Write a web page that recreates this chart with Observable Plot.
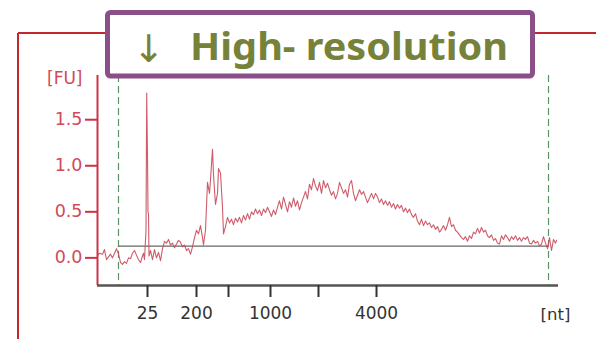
<!DOCTYPE html>
<html>
<head>
<meta charset="utf-8">
<script src="https://cdn.jsdelivr.net/npm/d3@7"></script>
<script src="https://cdn.jsdelivr.net/npm/@observablehq/plot@0.6"></script>
<style>
  html, body { margin: 0; padding: 0; background: #fff; }
  #wrap { position: relative; width: 596px; height: 339px; overflow: hidden; font-family: "DejaVu Sans", sans-serif; }
  #wrap > svg { position: absolute; left: 0; top: 0; }
  #overlay { pointer-events: none; }
</style>
</head>
<body>
<div id="wrap"></div>
<script>
// migration time (s) and fluorescence (FU)
const traceTime = [
  20.0,20.2,20.5,20.7,20.9,21.1,21.3,21.5,21.7,21.9,22.1,22.3,22.5,22.7,22.9,23.1,23.3,23.5,23.7,23.9,
  24.1,24.3,24.5,24.6,24.7,24.85,24.92,25.0,25.05,25.1,25.15,
  25.3,25.5,25.7,25.9,26.1,26.3,26.5,26.7,26.9,27.1,27.3,27.5,27.7,27.9,28.1,28.3,28.5,28.7,28.9,
  29.1,29.3,29.5,29.7,29.9,30.1,30.3,30.5,30.6,30.8,31.0,31.2,31.3,31.5,31.6,31.8,32.0,32.1,32.3,32.5,
  32.6,32.8,33.0,33.2,33.4,33.6,33.8,34.0,34.2,34.4,34.6,34.8,35.0,35.2,35.4,35.6,35.8,36.0,36.2,36.4,
  36.6,36.8,37.0,37.2,37.4,37.6,37.8,38.0,38.2,38.4,38.6,38.8,39.0,39.2,39.4,39.6,39.8,40.0,40.2,40.4,
  40.6,40.8,41.0,41.2,41.4,41.6,41.8,42.0,42.2,42.4,42.6,42.8,43.0,43.2,43.4,43.6,43.8,44.0,44.2,44.4,
  44.6,44.8,45.0,45.2,45.4,45.6,45.8,46.0,46.2,46.4,46.6,46.8,47.0,47.2,47.4,47.6,47.8,48.0,48.2,48.4,
  48.6,48.8,49.0,49.2,49.4,49.6,49.8,50.0,50.2,50.4,50.6,50.8,51.0,51.2,51.4,51.6,51.8,52.0,52.2,52.4,
  52.6,52.8,53.0,53.2,53.4,53.6,53.8,54.0,54.2,54.4,54.6,54.8,55.0,55.2,55.4,55.6,55.8,56.0,56.2,56.4,
  56.6,56.8,57.0,57.2,57.4,57.6,57.8,58.0,58.2,58.4,58.6,58.8,59.0,59.2,59.4,59.6,59.8,60.0,60.2,60.4,
  60.6,60.8,61.0,61.2,61.4,61.6,61.8,62.0,62.2,62.4,62.6,62.8,63.0,63.2,63.4,63.6,63.8,64.0,64.2,64.4,
  64.6,64.8,65.0,65.2,65.4,65.6,65.8,65.9
];
const traceFU = [
  0.03,0.05,0.04,0.09,-0.02,0.01,0.04,0.00,0.05,0.10,0.04,-0.05,-0.07,-0.04,-0.06,0.00,-0.01,0.05,0.08,0.03,
  -0.02,-0.05,0.02,0.05,-0.02,0.30,1.79,1.10,0.50,0.48,0.02,
  0.08,-0.02,0.09,0.00,0.06,-0.03,0.10,0.18,0.16,0.20,0.14,0.16,0.11,0.15,0.19,0.17,0.12,0.14,0.08,
  0.10,0.04,0.12,0.22,0.30,0.26,0.35,0.22,0.14,0.30,0.82,0.70,0.85,1.18,0.90,0.58,0.70,0.97,0.92,0.55,
  0.26,0.34,0.44,0.38,0.42,0.36,0.43,0.39,0.44,0.38,0.46,0.41,0.48,0.42,0.50,0.47,0.53,0.48,0.52,0.46,
  0.53,0.49,0.55,0.50,0.45,0.52,0.47,0.55,0.62,0.53,0.66,0.58,0.50,0.61,0.55,0.65,0.56,0.62,0.52,0.60,
  0.66,0.72,0.64,0.80,0.74,0.86,0.78,0.73,0.82,0.70,0.84,0.76,0.81,0.74,0.68,0.72,0.64,0.70,0.82,0.76,
  0.70,0.74,0.66,0.80,0.84,0.70,0.62,0.68,0.74,0.69,0.72,0.66,0.60,0.65,0.70,0.64,0.70,0.66,0.60,0.64,
  0.58,0.62,0.57,0.61,0.55,0.59,0.53,0.58,0.54,0.57,0.50,0.54,0.49,0.53,0.47,0.44,0.48,0.40,0.36,0.42,
  0.35,0.40,0.36,0.38,0.33,0.36,0.31,0.34,0.28,0.31,0.35,0.30,0.36,0.44,0.34,0.36,0.30,0.28,0.25,0.22,
  0.20,0.23,0.18,0.24,0.21,0.28,0.26,0.32,0.27,0.33,0.28,0.30,0.24,0.22,0.25,0.19,0.21,0.16,0.15,0.24,
  0.20,0.25,0.22,0.18,0.23,0.20,0.24,0.19,0.22,0.18,0.22,0.20,0.23,0.16,0.15,0.19,0.16,0.18,0.13,0.15,
  0.23,0.16,0.10,0.22,0.08,0.20,0.16,0.19
];
const yTicks = [0, 0.5, 1.0, 1.5];
const xTickTimes = [25.0, 29.9, 33.1, 37.3, 42.1, 47.9];
const xTickLabels = ["25", "200", "", "1000", "", "4000"];
const windowTimes = [22.1, 65.1];
const baselineFU = 0.128;
const titleText = "High- resolution";

const trace = traceTime.map((t, i) => ({t, v: traceFU[i]}));
const red = "#cc3344";

const chart = Plot.plot({
  width: 596, height: 339,
  marginLeft: 97, marginRight: 40, marginTop: 75, marginBottom: 54,
  style: {fontFamily: "DejaVu Sans, sans-serif", background: "white"},
  x: {domain: [20, 65.9], axis: null},
  y: {domain: [-0.3, 1.98], axis: null},
  marks: [
    Plot.ruleX(windowTimes, {stroke: "#5a9466", strokeWidth: 1.2, strokeDasharray: "7,4"}),
    Plot.ruleY([baselineFU], {x1: windowTimes[0], x2: windowTimes[1], stroke: "#666", strokeWidth: 1.2}),
    Plot.line(trace, {x: "t", y: "v", stroke: "#c94a5a", strokeWidth: 1.1, strokeOpacity: 0.9}),
    Plot.ruleX([20], {stroke: red, strokeWidth: 2}),
    Plot.axisY(yTicks, {label: null, tickSize: 12, tickPadding: 3, stroke: red, strokeWidth: 2, fill: "#d04a5a",
      fontSize: 17.5, tickFormat: d => d.toFixed(1)}),
    Plot.text(["[FU]"], {x: 20, y: 1.98, dx: -15, dy: 3, textAnchor: "end", fill: "#d04a5a", fontSize: 17}),
    Plot.ruleY([-0.3], {x1: 20, x2: 66.1, stroke: "#555", strokeWidth: 2.5}),
    Plot.axisX(xTickTimes, {label: null, tickSize: 12, tickPadding: 9, stroke: "#333", strokeWidth: 2, fill: "#333",
      fontSize: 17, tickFormat: (d, i) => xTickLabels[i]}),
    Plot.text(["[nt]"], {x: 65.8, y: -0.3, dy: 29, fill: "#333", fontSize: 16.5})
  ]
});
const wrap = document.getElementById("wrap");
wrap.appendChild(chart);

const ns = "http://www.w3.org/2000/svg";
const ov = document.createElementNS(ns, "svg");
ov.setAttribute("id", "overlay");
ov.setAttribute("width", 596);
ov.setAttribute("height", 339);
ov.innerHTML = `
  <line x1="18" y1="33" x2="596" y2="33" stroke="#c0282e" stroke-width="2"/>
  <line x1="18" y1="33" x2="18" y2="339" stroke="#c0282e" stroke-width="2"/>
  <rect x="107.5" y="12.5" width="425" height="63.5" rx="3" fill="white" stroke="#8a4f88" stroke-width="5"/>
  <text x="133" y="62" font-family="DejaVu Sans" font-size="38" fill="#76823a">↓</text>
  <text x="190" y="60" font-family="Noto Sans" font-weight="bold" font-size="38" fill="#76823a"
        textLength="318" lengthAdjust="spacingAndGlyphs">${titleText}</text>`;
wrap.appendChild(ov);
</script>
</body>
</html>
